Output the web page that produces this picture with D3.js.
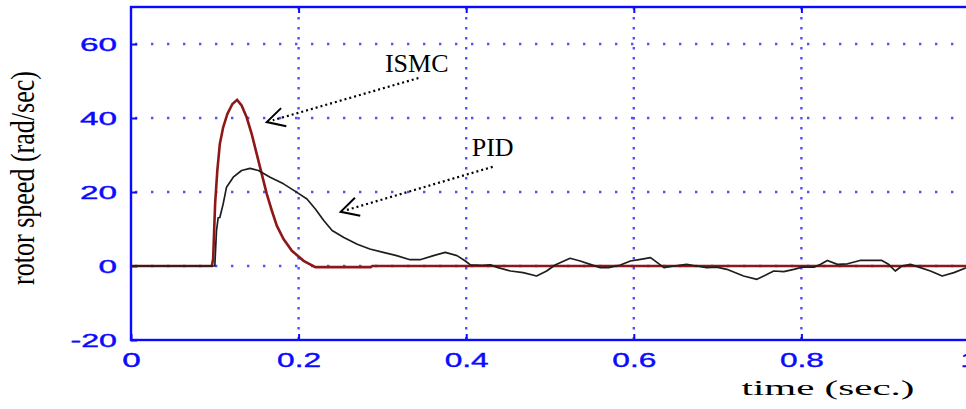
<!DOCTYPE html>
<html><head><meta charset="utf-8">
<script src="https://cdn.jsdelivr.net/npm/d3@7"></script>
<style>html,body{margin:0;padding:0;background:#fff;overflow:hidden}</style>
</head><body>
<svg id="chart" width="966" height="409"></svg>
<script>
// ---- data ----
const xTicks = [0, 0.2, 0.4, 0.6, 0.8, 1];
const xTickLabels = ["0", "0.2", "0.4", "0.6", "0.8", "1"];
const yTicks = [-20, 0, 20, 40, 60];
const yTickLabels = ["-20", "0", "20", "40", "60"];
const xGrid = [0.2, 0.4, 0.6, 0.8];
const yGrid = [0, 20, 40, 60];

const ismcTime = [0, 0.0965, 0.098, 0.1004, 0.103, 0.106, 0.110, 0.115, 0.121, 0.1266, 0.132, 0.138, 0.144, 0.150, 0.156, 0.162, 0.168, 0.174, 0.182, 0.192, 0.206, 0.220, 0.286, 0.288, 1.0];
const ismcSpeed = [0, 0, 1.9, 16.9, 25.8, 33, 37.5, 41.1, 43.8, 44.9, 43.4, 40.2, 35.7, 30.3, 24.9, 19.5, 15, 10.9, 7.3, 4.1, 1.4, -0.3, -0.3, 0, 0];

const pidTime = [0, 0.100, 0.102, 0.104, 0.106, 0.110, 0.114, 0.122, 0.132, 0.142, 0.152, 0.166, 0.182, 0.198, 0.210, 0.220, 0.230, 0.240, 0.254, 0.270, 0.285, 0.301, 0.317, 0.333, 0.345, 0.361, 0.375, 0.389, 0.399, 0.405, 0.419, 0.429, 0.438, 0.453, 0.468, 0.484, 0.496, 0.506, 0.512, 0.524, 0.536, 0.548, 0.560, 0.570, 0.584, 0.596, 0.608, 0.620, 0.628, 0.636, 0.648, 0.663, 0.675, 0.687, 0.699, 0.711, 0.731, 0.747, 0.767, 0.779, 0.791, 0.801, 0.815, 0.823, 0.831, 0.843, 0.855, 0.870, 0.896, 0.904, 0.912, 0.920, 0.930, 0.942, 0.954, 0.968, 0.982, 0.997];
const pidSpeed = [0, 0, 9.5, 13, 13.1, 16.8, 21.3, 24, 25.8, 26.4, 25.8, 24, 22.2, 19.9, 18.1, 15.4, 12.3, 9.6, 7.7, 5.9, 4.6, 3.7, 2.8, 1.7, 1.7, 2.8, 3.7, 2.8, 1.35, 0.3, 0.2, 0.3, -0.45, -1.35, -1.8, -2.7, -1.35, 0.27, 0.9, 2.1, 1.35, 0.45, -0.45, -0.45, 0.27, 1.35, 1.8, 2.25, 0.9, -0.45, 0, 0.45, 0, -0.45, -0.3, -0.9, -2.7, -3.6, -1.35, -1.5, -0.9, -0.3, -0.3, 0.45, 1.5, 0.45, 0.6, 1.5, 1.5, 0.45, -1.35, 0, 0.45, -0.45, -1.35, -2.7, -1.8, -0.45];

const annotations = [
  {label: "ISMC", textT: 0.303, textV: 52.4, fromT: 0.343, fromV: 50.8, toT: 0.162, toV: 38.9},
  {label: "PID", textT: 0.4066, textV: 29.7, fromT: 0.4316, fromV: 26.8, toT: 0.2502, toV: 14.65}
];
const xTitle = "time (sec.)";
const yTitle = "rotor speed (rad/sec)";

// ---- layout ----
const L = 131, R = 969, T = 7, B = 340;
const svg = d3.select("#chart");
const x = d3.scaleLinear().domain([0, 1]).range([L, R]);
const y = d3.scaleLinear().domain([-20, 70]).range([B, T]);
const BLUE = "#0a0aff";

// grid
const g = svg.append("g");
g.selectAll("line.vg").data(xGrid).join("line")
  .attr("x1", d => x(d)).attr("x2", d => x(d)).attr("y1", T).attr("y2", B)
  .attr("stroke", "#5050ff").attr("stroke-width", 2.4).attr("stroke-dasharray", "2.4 7.6");
g.selectAll("line.hg").data(yGrid).join("line")
  .attr("x1", L).attr("x2", R).attr("y1", d => y(d)).attr("y2", d => y(d))
  .attr("stroke", "#5050ff").attr("stroke-width", 2.4).attr("stroke-dasharray", "2.4 13.6")
  .attr("stroke-dashoffset", -4);

// widths for stretched tick label font
function labelWidth(s) {
  let w = 0;
  for (const c of s) w += (c === ".") ? 7 : (c === "-") ? 9.5 : 18.5;
  return w;
}

// axes
const xAxis = d3.axisBottom(x).tickValues(xTicks).tickFormat((d, i) => xTickLabels[i]).tickSizeInner(-6).tickSizeOuter(0).tickPadding(0);
const xg = svg.append("g").attr("transform", `translate(0,${B})`).call(xAxis);
const yAxis = d3.axisLeft(y).tickValues(yTicks).tickFormat((d, i) => yTickLabels[i]).tickSizeInner(-6).tickSizeOuter(0).tickPadding(14);
const yg = svg.append("g").attr("transform", `translate(${L},0)`).call(yAxis);
const xTopAxis = d3.axisTop(x).tickValues(xGrid).tickFormat("").tickSizeInner(-6).tickSizeOuter(0);
svg.append("g").attr("transform", `translate(0,${T})`).call(xTopAxis);

svg.selectAll(".domain").remove();
svg.selectAll(".tick line").attr("stroke", BLUE).attr("stroke-width", 2);
svg.selectAll(".tick text")
  .attr("fill", BLUE).attr("font-family", "'Liberation Sans', Arial, sans-serif")
  .attr("stroke", BLUE).attr("stroke-width", 0.4)
  .attr("lengthAdjust", "spacingAndGlyphs")
  .attr("textLength", function () { return labelWidth(this.textContent); });
xg.selectAll(".tick text").attr("font-size", 21).attr("y", 26.5).attr("dy", null);
yg.selectAll(".tick text").attr("font-size", 19).attr("dy", "0.36em");

// frame
svg.append("rect").attr("x", L).attr("y", T).attr("width", R - L).attr("height", B - T)
  .attr("fill", "none").attr("stroke", BLUE).attr("stroke-width", 2.4);

// series
const line = d3.line().x(d => x(d[0])).y(d => y(d[1]));
svg.append("path").datum(d3.zip(ismcTime, ismcSpeed)).attr("d", line)
  .attr("fill", "none").attr("stroke", "#8e1717").attr("stroke-width", 2.6);
svg.append("path").datum(d3.zip(pidTime, pidSpeed)).attr("d", line)
  .attr("fill", "none").attr("stroke", "#1e1e1e").attr("stroke-width", 1.7)
  .attr("stroke-linejoin", "round");

// annotations
annotations.forEach(a => {
  const x0 = x(a.fromT), y0 = y(a.fromV), x1 = x(a.toT), y1 = y(a.toV);
  svg.append("line").attr("x1", x0).attr("y1", y0).attr("x2", x1 + 6).attr("y2", y1 - 1.8)
    .attr("stroke", "#000").attr("stroke-width", 2.2).attr("stroke-dasharray", "2 3");
  const ang = Math.atan2(y0 - y1, x0 - x1), len = 20, spread = 28 * Math.PI / 180;
  const p1 = [x1 + len * Math.cos(ang - spread), y1 + len * Math.sin(ang - spread)];
  const p2 = [x1 + len * Math.cos(ang + spread), y1 + len * Math.sin(ang + spread)];
  svg.append("path").attr("d", `M${p1[0]},${p1[1]}L${x1},${y1}L${p2[0]},${p2[1]}`)
    .attr("fill", "none").attr("stroke", "#000").attr("stroke-width", 2);
  svg.append("text").attr("x", x(a.textT)).attr("y", y(a.textV)).text(a.label)
    .attr("font-family", "'Liberation Serif', 'Times New Roman', serif").attr("font-size", 26).attr("fill", "#000");
});

// titles
svg.append("text").attr("x", 741.5).attr("y", 394.5).text(xTitle)
  .attr("font-family", "'Liberation Serif', 'Times New Roman', serif").attr("font-size", 20)
  .attr("textLength", 173).attr("lengthAdjust", "spacingAndGlyphs").attr("fill", "#000");
svg.append("text").attr("transform", "translate(34,285) rotate(-90)").text(yTitle)
  .attr("font-family", "'Liberation Serif', 'Times New Roman', serif").attr("font-size", 33)
  .attr("textLength", 214).attr("lengthAdjust", "spacingAndGlyphs").attr("fill", "#000");
</script>
</body></html>
